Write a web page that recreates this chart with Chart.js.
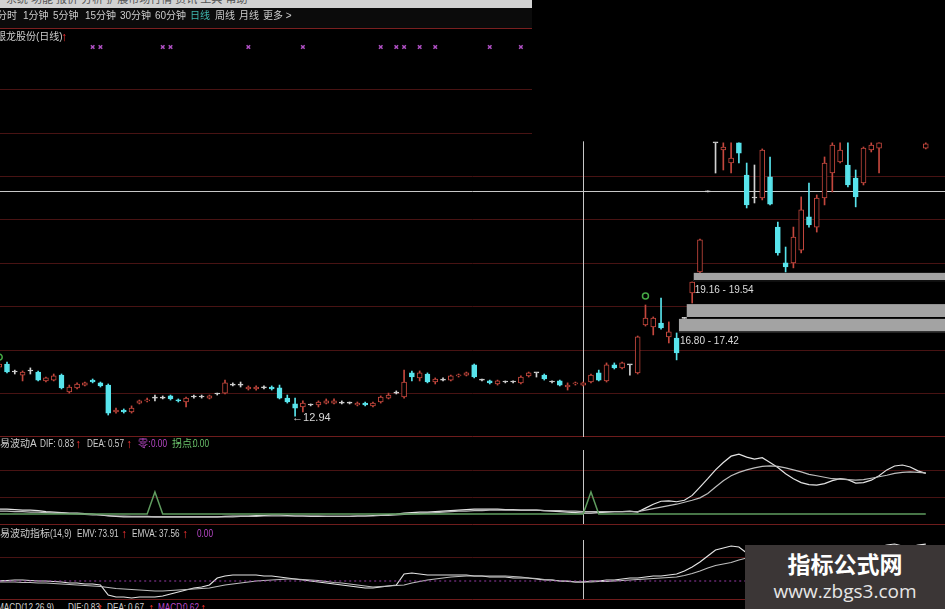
<!DOCTYPE html>
<html>
<head>
<meta charset="utf-8">
<title>银龙股份 日线</title>
<script src="https://cdn.jsdelivr.net/npm/chart.js@4.4.1/dist/chart.umd.min.js"></script>
<style>
  html, body { margin: 0; padding: 0; background: #000; }
  #wrap { position: relative; width: 945px; height: 609px; overflow: hidden; background: #000;
          font-family: "Liberation Sans", "Noto Sans CJK SC", sans-serif; }
  #wrap canvas { position: absolute; left: 0; }
  .t { position: absolute; white-space: nowrap; line-height: 1; transform-origin: 0 0; }
  #menubar { position: absolute; left: 0; top: 0; width: 532px; height: 8px; background: #d2d2d2; overflow: hidden; }
  #tabs { position: absolute; left: 0; top: 8px; width: 532px; height: 20px; background: #0b0b0b; }
  #topline { position: absolute; left: 0; top: 28px; width: 532px; height: 1px; background: #7a2020; }
  #mark { position: absolute; left: 745px; top: 545px; width: 200px; height: 64px; background: #3b3636; text-align: center; }
  #mark .cn { position: absolute; left: 0; width: 200px; top: 6px; font: bold 23px "Noto Sans CJK SC"; color: #fff; line-height: 1.1; }
  #mark .url { position: absolute; left: 0; width: 200px; top: 36px; font: 19px "Open Sans"; color: #e6e6e6; line-height: 1.1; }
</style>
</head>
<body>
<div id="wrap">
  <div id="menubar"></div>
  <div id="tabs"></div>
  <div id="topline"></div>
  <canvas id="mainChart" width="945" height="407" style="top:30px"></canvas>
  <canvas id="waveChart" width="945" height="88" style="top:437px"></canvas>
  <canvas id="emvChart" width="945" height="75" style="top:525px"></canvas>
  <div id="labels"></div>
  <div id="mark"><div class="cn">指标公式网</div><div class="url">www.zbgs3.com</div></div>
</div>
<script>
// daily candles, index 0 is the partly hidden one on the left edge
const openP = [
  15.20, 15.34, 14.97, 14.83, 15.02, 14.97, 14.56, 14.60, 14.83, 14.05,
  14.24, 14.37, 14.60, 14.47, 14.37, 13.13, 13.22, 13.13, 13.54, 13.64,
  13.77, 13.77, 13.87, 13.68, 13.59, 13.82, 13.82, 13.77, 13.96, 14.00,
  14.37, 14.37, 14.19, 14.19, 14.24, 14.28, 14.24, 13.77, 13.50, 13.36,
  13.45, 13.45, 13.54, 13.54, 13.54, 13.54, 13.45, 13.54, 13.41, 13.59,
  13.77, 14.00, 13.82, 14.93, 14.70, 14.88, 14.51, 14.60, 14.60, 14.79,
  14.83, 15.30, 14.60, 14.56, 14.42, 14.51, 14.51, 14.47, 14.79, 14.93,
  14.83, 14.51, 14.56, 14.28, 14.42, 14.37, 14.51, 14.93, 14.56, 15.30,
  15.16, 15.30, 14.93, 17.14, 17.05, 17.23, 16.59, 16.54, 17.44, 18.61,
  19.58, 23.27, 25.53, 25.20, 24.60, 25.53, 24.05, 22.99, 22.99, 23.96,
  21.65, 20.00, 20.00, 20.59, 22.12, 21.65, 22.99, 24.14, 24.65, 24.51,
  23.91, 23.68, 25.20, 25.29, null, null, null, null, null, 25.29
];
const highP = [
  15.43, 15.43, 15.06, 15.02, 15.16, 15.02, 14.74, 14.88, 14.88, 14.37,
  14.47, 14.51, 14.65, 14.51, 14.42, 13.31, 13.27, 13.41, 13.68, 13.77,
  13.91, 13.87, 13.91, 13.73, 13.82, 13.91, 13.91, 13.91, 14.00, 14.60,
  14.47, 14.51, 14.33, 14.33, 14.33, 14.33, 14.37, 13.91, 13.77, 13.64,
  13.50, 13.64, 13.73, 13.73, 13.64, 13.59, 13.59, 13.59, 13.59, 13.87,
  14.00, 14.10, 15.06, 15.02, 15.02, 14.93, 14.70, 14.70, 14.83, 14.88,
  14.97, 15.34, 14.65, 14.60, 14.60, 14.56, 14.56, 14.79, 14.97, 14.93,
  14.88, 14.56, 14.60, 14.47, 14.51, 14.51, 14.88, 15.06, 15.39, 15.39,
  15.43, 15.30, 16.63, 18.06, 17.51, 18.38, 17.28, 16.77, 17.44, 19.12,
  21.10, 23.27, 25.53, 25.53, 25.53, 25.53, 24.60, 24.51, 25.25, 24.88,
  21.88, 20.73, 21.65, 23.04, 23.68, 23.13, 24.88, 25.53, 25.53, 25.53,
  24.28, 25.34, 25.53, 25.53, null, null, null, null, null, 25.53
];
const lowP = [
  15.11, 14.93, 14.88, 14.56, 14.88, 14.56, 14.51, 14.56, 14.19, 14.00,
  14.19, 14.33, 14.47, 14.28, 12.99, 13.08, 13.08, 13.08, 13.50, 13.59,
  13.64, 13.73, 13.68, 13.59, 13.36, 13.77, 13.77, 13.73, 13.91, 13.96,
  14.33, 14.28, 14.14, 14.14, 14.19, 14.14, 13.73, 13.54, 12.94, 13.13,
  13.41, 13.36, 13.50, 13.50, 13.50, 13.50, 13.41, 13.41, 13.36, 13.54,
  13.73, 13.96, 13.77, 14.56, 14.56, 14.47, 14.42, 14.56, 14.56, 14.74,
  14.79, 14.70, 14.56, 14.42, 14.37, 14.47, 14.47, 14.42, 14.74, 14.74,
  14.60, 14.47, 14.33, 14.14, 14.37, 14.33, 14.47, 14.56, 14.51, 15.11,
  15.11, 14.83, 14.88, 17.09, 16.68, 16.95, 16.31, 15.53, 17.44, 18.15,
  19.53, 23.27, 24.14, 24.28, 24.14, 24.60, 22.53, 22.76, 22.90, 22.67,
  20.36, 19.58, 19.77, 20.46, 21.65, 21.42, 22.67, 23.27, 24.60, 23.50,
  22.58, 23.59, 25.11, 24.14, null, null, null, null, null, 25.25
];
const closeP = [
  15.34, 14.97, 14.97, 14.97, 15.02, 14.60, 14.70, 14.79, 14.24, 14.28,
  14.42, 14.47, 14.51, 14.33, 13.08, 13.22, 13.13, 13.31, 13.64, 13.68,
  13.77, 13.77, 13.73, 13.64, 13.77, 13.82, 13.82, 13.87, 13.96, 14.47,
  14.37, 14.37, 14.28, 14.28, 14.24, 14.19, 13.77, 13.59, 13.31, 13.54,
  13.45, 13.59, 13.64, 13.64, 13.54, 13.54, 13.54, 13.45, 13.54, 13.82,
  13.91, 14.00, 14.51, 14.74, 14.93, 14.51, 14.65, 14.60, 14.79, 14.83,
  14.93, 14.74, 14.60, 14.47, 14.56, 14.51, 14.51, 14.74, 14.93, 14.93,
  14.65, 14.51, 14.37, 14.37, 14.47, 14.47, 14.83, 14.60, 15.30, 15.16,
  15.39, 15.30, 16.59, 17.46, 17.46, 17.00, 16.82, 15.85, 17.44, 19.12,
  21.06, 23.27, 25.53, 25.34, 24.83, 25.06, 22.67, 22.99, 25.20, 22.71,
  20.46, 19.81, 21.19, 22.44, 21.75, 22.99, 24.60, 25.43, 25.20, 23.59,
  23.04, 25.29, 25.43, 25.53, null, null, null, null, null, 25.48
];

// price zones (gray bars) on the right
const zoneLow = [19.16, 17.46, 16.80];
const zoneHigh = [19.54, 18.10, 17.42];
const zoneStart = [89.2, 88.3, 87.3];
const zoneText = ['19.16 - 19.54', '', '16.80 - 17.42'];

const lowMarkIndex = 38;
const lowMarkText = '12.94';

const greenSignalIdx = [0, 83];
const greenSignalPrice = [15.66, 18.47];
const purpleSignalIdx = [12, 13, 21, 22, 32, 39, 49, 51, 52, 54, 56, 63, 67];
const purpleSignalPrice = 29.95;

const gridPrices = [14, 16, 18, 20, 22, 24];
const upperGridPrices = [26, 28];
const crossIndex = 75;
const crossPrice = 23.31;
const crossTopPrice = 25.6;

// 简易波动A
const dif = [
  0.10, 0.10, 0.09, 0.08, 0.08, 0.07, 0.05, 0.04, 0.03, 0.02,
  0.02, 0.01, 0.00, -0.02, -0.04, -0.05, -0.06, -0.06, -0.06, -0.06,
  -0.06, -0.06, -0.06, -0.06, -0.06, -0.06, -0.06, -0.06, -0.06, -0.05,
  -0.04, -0.04, -0.04, -0.03, -0.03, -0.02, -0.02, -0.03, -0.04, -0.04,
  -0.05, -0.05, -0.05, -0.05, -0.05, -0.05, -0.04, -0.04, -0.03, -0.02,
  -0.01, 0.00, 0.02, 0.03, 0.04, 0.04, 0.05, 0.06, 0.07, 0.08,
  0.09, 0.10, 0.10, 0.10, 0.10, 0.09, 0.09, 0.08, 0.08, 0.08,
  0.07, 0.06, 0.05, 0.04, 0.03, 0.02, 0.02, 0.03, 0.04, 0.05,
  0.05, 0.06, 0.04, 0.12, 0.20, 0.26, 0.27, 0.25, 0.28, 0.38,
  0.55, 0.72, 0.90, 1.05, 1.18, 1.22, 1.16, 1.12, 1.15, 1.05,
  0.95, 0.82, 0.72, 0.64, 0.60, 0.59, 0.62, 0.68, 0.72, 0.70,
  0.63, 0.64, 0.69, 0.78, 0.90, 0.98, 1.00, 0.96, 0.88, 0.83
];
const dea = [
  0.06, 0.06, 0.05, 0.05, 0.04, 0.04, 0.03, 0.02, 0.02, 0.01,
  0.00, -0.01, -0.02, -0.02, -0.03, -0.04, -0.04, -0.05, -0.05, -0.05,
  -0.06, -0.06, -0.06, -0.06, -0.06, -0.06, -0.06, -0.06, -0.06, -0.06,
  -0.06, -0.05, -0.05, -0.05, -0.04, -0.04, -0.04, -0.04, -0.04, -0.04,
  -0.04, -0.04, -0.05, -0.05, -0.05, -0.05, -0.04, -0.04, -0.04, -0.03,
  -0.03, -0.02, -0.01, 0.00, 0.01, 0.02, 0.03, 0.04, 0.05, 0.06,
  0.06, 0.07, 0.07, 0.08, 0.08, 0.08, 0.08, 0.08, 0.08, 0.08,
  0.07, 0.07, 0.07, 0.06, 0.06, 0.05, 0.05, 0.05, 0.05, 0.05,
  0.05, 0.05, 0.05, 0.08, 0.11, 0.14, 0.17, 0.20, 0.24, 0.28,
  0.33, 0.42, 0.55, 0.68, 0.78, 0.85, 0.90, 0.94, 0.97, 0.98,
  0.97, 0.94, 0.90, 0.86, 0.81, 0.78, 0.75, 0.72, 0.71, 0.70,
  0.69, 0.70, 0.73, 0.76, 0.79, 0.83, 0.85, 0.86, 0.85, 0.84
];
const turnX = [0, 19, 20, 21, 75, 76, 77, 119];
const turnY = [0, 0, 0.45, 0, 0, 0.45, 0, 0];
const wavePanelGrid = [0.35, 0.9];

// 简易波动指标(14,9)
const emv = [
  0, 1, 2, 2, 1, 0, 0, -1, -2, -4,
  -4, -6, -6, -8, -28, -32, -32, -34, -32, -32,
  -32, -30, -26, -22, -18, -14, -12, -8, 6, 10,
  12, 12, 12, 12, 10, 10, 8, 6, 4, 2,
  0, -2, -4, -6, -8, -10, -12, -14, -14, -12,
  -10, -8, 14, 16, 14, 12, 12, 12, 12, 12,
  12, 10, 10, 8, 8, 8, 6, 6, 6, 4,
  2, 2, 0, 0, -2, -2, 0, 0, 2, 2,
  4, 6, 6, 8, 10, 10, 12, 14, 20, 28,
  38, 50, 62, 66, 70, 68, 56, 50, 46, 38,
  30, 26, 30, 36, 38, 42, 50, 56, 58, 56,
  52, 58, 64, 68, 72, 74, 70, 68, 72, 73.91
];
const emva = [
  -2, -2, -2, -3, -3, -4, -4, -5, -6, -7,
  -8, -9, -10, -11, -13, -15, -16, -17, -18, -19,
  -20, -20, -19, -18, -17, -16, -15, -14, -11, -8,
  -6, -4, -2, 0, 1, 2, 3, 4, 4, 3,
  2, 1, -1, -3, -4, -6, -8, -10, -12, -11,
  -10, -9, -8, -4, -1, 2, 4, 6, 8, 9,
  10, 10, 10, 10, 10, 10, 9, 8, 6, 5,
  3, 2, 0, -1, -2, -2, -2, -1, -1, 0,
  1, 2, 3, 4, 5, 6, 7, 8, 11, 15,
  20, 26, 31, 34, 37, 42, 46, 47, 47, 46,
  44, 42, 40, 39, 38, 38, 39, 40, 41, 42,
  42, 42, 41, 40, 40, 39, 39, 38, 38, 37.56
];
const emvZeroX = [0, 119];
const emvPanelGrid = [48];

const xMin = 0.101, xMax = 121.47;

const UP = '#c4473d', DOWN = '#58e4ec', FLAT = '#d2d2d2';
const GRID = '#481313', BORDER = '#6e1c1c';

const candleIdx = [];
openP.forEach((o, i) => { if (o !== null) candleIdx.push(i); });
const kindOf = i => closeP[i] > openP[i] ? UP : (closeP[i] < openP[i] ? DOWN : FLAT);

const xAxis = { type: 'linear', min: xMin, max: xMax, display: false, offset: false };
const baseOptions = {
  responsive: false, animation: false, devicePixelRatio: 1,
  layout: { padding: 0, autoPadding: false },
  plugins: { legend: { display: false }, tooltip: { enabled: false } },
  events: []
};

function hline(ctx, y, x0, x1) {
  const py = Math.round(y) + 0.5;
  ctx.beginPath(); ctx.moveTo(x0, py); ctx.lineTo(x1, py); ctx.stroke();
}
function vline(ctx, x, y0, y1) {
  const px = Math.round(x) + 0.5;
  ctx.beginPath(); ctx.moveTo(px, y0); ctx.lineTo(px, y1); ctx.stroke();
}

const mainDecor = {
  id: 'mainDecor',
  beforeDatasetsDraw(chart) {
    const { ctx, chartArea: a, scales: { x, y } } = chart;
    ctx.save();
    ctx.lineWidth = 1;
    ctx.strokeStyle = GRID;
    gridPrices.forEach(p => hline(ctx, y.getPixelForValue(p), a.left, a.right));
    upperGridPrices.forEach(p => hline(ctx, y.getPixelForValue(p), a.left, 532));
    ctx.strokeStyle = BORDER;
    hline(ctx, a.bottom - 1, a.left, a.right);
    ctx.strokeStyle = '#c8c8c8';
    vline(ctx, x.getPixelForValue(crossIndex), y.getPixelForValue(crossTopPrice), a.bottom);
    hline(ctx, y.getPixelForValue(crossPrice), a.left, a.right);
    ctx.restore();
  },
  afterDatasetsDraw(chart) {
    const { ctx, chartArea: a, scales: { x, y } } = chart;
    ctx.save();
    ctx.font = '10px "Liberation Sans"';
    ctx.textBaseline = 'top';
    zoneLow.forEach((lo, k) => {
      const x0 = x.getPixelForValue(zoneStart[k]);
      const yTop = y.getPixelForValue(zoneHigh[k]);
      const yBot = y.getPixelForValue(lo);
      ctx.fillStyle = '#a3a3a3';
      ctx.fillRect(x0, yTop, a.right - x0, yBot - yTop);
      ctx.fillStyle = '#000';
      ctx.fillRect(x0, yBot - 1, a.right - x0, 1);
      if (zoneText[k]) {
        ctx.fillStyle = '#dcdcdc';
        ctx.fillText(zoneText[k], x0 + 1, yBot + 4);
      }
    });
    const lx = x.getPixelForValue(lowMarkIndex);
    const ly = y.getPixelForValue(lowP[lowMarkIndex]);
    ctx.fillStyle = '#d8d8d8';
    ctx.textBaseline = 'middle';
    ctx.font = '11px "Liberation Sans"';
    ctx.fillText('\u2190' + lowMarkText, lx - 3, ly + 2);
    ctx.restore();
  }
};

new Chart(document.getElementById('mainChart'), {
  type: 'bar',
  data: {
    datasets: [
      {
        label: 'body',
        order: 1,
        grouped: false,
        barThickness: 5,
        minBarLength: 1,
        borderWidth: 1,
        borderSkipped: false,
        data: candleIdx.map(i => ({ x: i, y: [openP[i], closeP[i]] })),
        backgroundColor: candleIdx.map(i => kindOf(i) === UP ? '#000' : kindOf(i)),
        borderColor: candleIdx.map(i => kindOf(i))
      },
      {
        label: 'wick',
        order: 2,
        grouped: false,
        barThickness: 1,
        minBarLength: 1,
        borderWidth: 0,
        data: candleIdx.map(i => ({ x: i, y: [lowP[i], highP[i]] })),
        backgroundColor: candleIdx.map(i => kindOf(i))
      },
      {
        type: 'scatter',
        order: 0,
        data: greenSignalIdx.map((i, k) => ({ x: i, y: greenSignalPrice[k] })),
        pointStyle: 'circle', pointRadius: 3, borderWidth: 1.5,
        borderColor: '#45a845', backgroundColor: 'rgba(0,0,0,0)'
      },
      {
        type: 'scatter',
        order: 0,
        data: purpleSignalIdx.map(i => ({ x: i, y: purpleSignalPrice })),
        pointStyle: 'crossRot', pointRadius: 2.5, borderWidth: 1.5,
        borderColor: '#b050c4'
      }
    ]
  },
  options: Object.assign({}, baseOptions, {
    scales: { x: xAxis, y: { display: false, min: 11.977, max: 30.73 } }
  }),
  plugins: [mainDecor]
});

function panelDecor(gridVals, crossFromTop) {
  return {
    id: 'panelDecor',
    beforeDatasetsDraw(chart) {
      const { ctx, chartArea: a, scales: { x, y } } = chart;
      ctx.save();
      ctx.lineWidth = 1;
      ctx.strokeStyle = GRID;
      gridVals.forEach(v => hline(ctx, y.getPixelForValue(v), a.left, a.right));
      ctx.strokeStyle = BORDER;
      hline(ctx, a.bottom - 1, a.left, a.right);
      ctx.strokeStyle = '#c8c8c8';
      vline(ctx, x.getPixelForValue(crossIndex), a.top + crossFromTop, a.bottom - 1);
      ctx.restore();
    }
  };
}

const line = (data, color, extra) => Object.assign({
  type: 'line', data, borderColor: color, borderWidth: 1.2,
  pointRadius: 0, tension: 0, fill: false
}, extra || {});

new Chart(document.getElementById('waveChart'), {
  type: 'line',
  data: {
    datasets: [
      line(turnX.map((v, k) => ({ x: v, y: turnY[k] })), '#5f9c5f', { borderWidth: 1.5 }),
      line(dea.map((v, i) => ({ x: i, y: v })), '#bdbdbd'),
      line(dif.map((v, i) => ({ x: i, y: v })), '#e4e4e4')
    ]
  },
  options: Object.assign({}, baseOptions, {
    scales: { x: xAxis, y: { display: false, min: -0.224, max: 1.571 } }
  }),
  plugins: [panelDecor(wavePanelGrid, 13)]
});

new Chart(document.getElementById('emvChart'), {
  type: 'line',
  data: {
    datasets: [
      line(emvZeroX.map(v => ({ x: v, y: 0 })), '#9a3aaa', { borderDash: [2, 3] }),
      line(emva.map((v, i) => ({ x: i, y: v })), '#bdbdbd'),
      line(emv.map((v, i) => ({ x: i, y: v })), '#e4e4e4')
    ]
  },
  options: Object.assign({}, baseOptions, {
    scales: { x: xAxis, y: { display: false, min: -38, max: 112 } }
  }),
  plugins: [panelDecor(emvPanelGrid, 15)]
});

// header texts; narrow = latin token squeezed like the terminal font
const labels = document.getElementById('labels');
function addText(items, top, size) {
  items.forEach(([text, x, color, narrow]) => {
    const s = document.createElement('span');
    s.className = 't';
    s.textContent = text;
    s.style.left = x + 'px';
    s.style.top = top + 'px';
    s.style.fontSize = size + 'px';
    s.style.color = color;
    if (narrow === 1) s.style.transform = 'scaleX(0.82)';
    if (narrow === 2) { s.style.fontSize = (size + 2) + 'px'; s.style.fontWeight = 'bold'; s.style.marginTop = '-1px'; }
    labels.appendChild(s);
  });
}
const GREY = '#cdcdcd', RED = '#ff3434', PURPLE = '#b848c8', GREEN = '#6cc46c';
const ARROW = '\u2191';
addText([['系统  功能  报价  分析  扩展市场行情  资讯  工具  帮助', 6, '#555']], -6, 11);
addText([
  ['分时', -3, GREY], ['1分钟', 23, GREY], ['5分钟', 53, GREY], ['15分钟', 85, GREY],
  ['30分钟', 120, GREY], ['60分钟', 155, GREY], ['日线', 190, '#3fb8b0'], ['周线', 215, GREY],
  ['月线', 239, GREY], ['更多 >', 263, GREY]
], 11, 10);
addText([['银龙股份(日线)', -4, GREY], [ARROW, 61, RED, 2]], 32, 10);
addText([
  ['简易波动A', -10, GREY], ['DIF:', 40, GREY, 1], ['0.83', 58, GREY, 1], [ARROW, 75, RED, 2],
  ['DEA:', 87, GREY, 1], ['0.57', 108, GREY, 1], [ARROW, 126, RED, 2],
  ['零:', 138, PURPLE], ['0.00', 151, PURPLE, 1], ['拐点:', 172, GREEN], ['0.00', 193, GREEN, 1]
], 439, 10);
addText([
  ['简易波动指标', -10, GREY], ['(14,9)', 50, GREY, 1], ['EMV:', 77, GREY, 1], ['73.91', 98, GREY, 1],
  [ARROW, 121, RED, 2], ['EMVA:', 132, GREY, 1], ['37.56', 159, GREY, 1], [ARROW, 182, RED, 2],
  ['0.00', 197, PURPLE, 1]
], 529, 10);
addText([
  ['MACD(12,26,9)', -3, GREY, 1], ['DIF:', 68, GREY, 1], ['0.83', 84, GREY, 1], [ARROW, 97, RED, 2],
  ['DEA:', 107, GREY, 1], ['0.67', 128, GREY, 1], [ARROW, 148, RED, 2],
  ['MACD:', 158, PURPLE, 1], ['0.62', 183, PURPLE, 1], [ARROW, 200, RED, 2]
], 603, 10);
</script>
</body>
</html>
